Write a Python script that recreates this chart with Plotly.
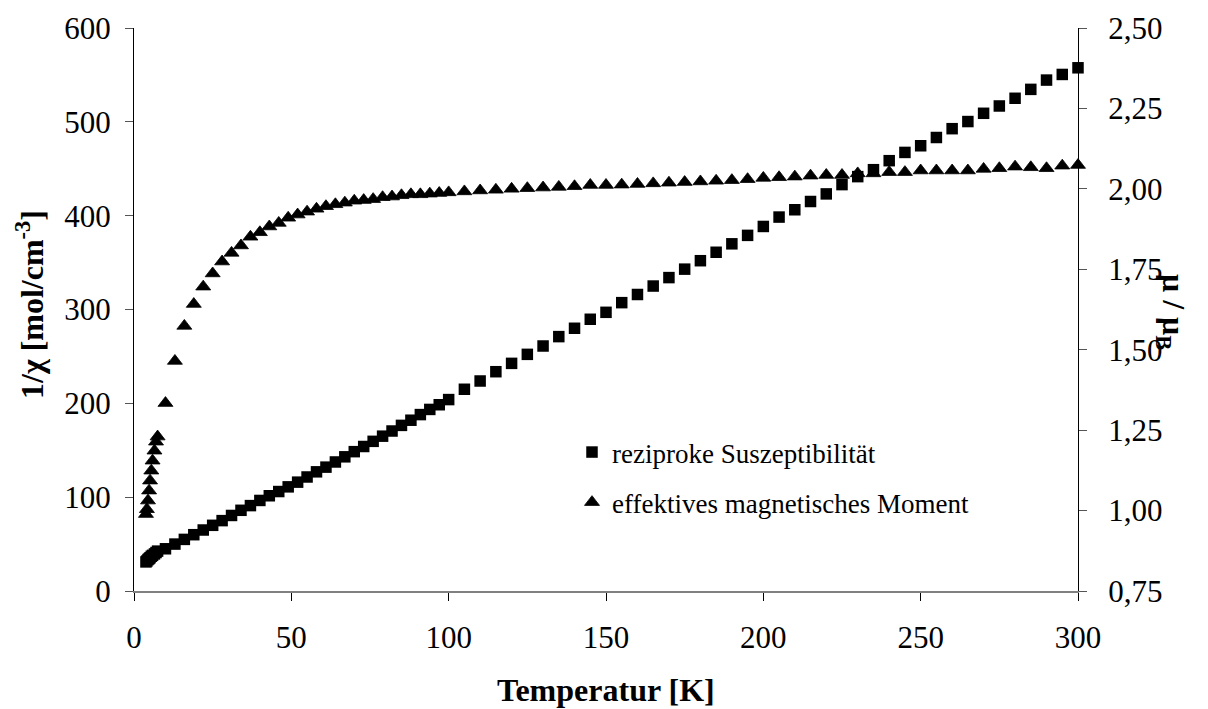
import plotly.graph_objects as go

# Temperatur [K]
temperatur = [
    3.8, 4.1, 4.45, 4.8, 5.1, 5.5, 5.9, 6.5, 7.0, 7.5,
    10, 13, 16, 19, 22, 25, 28, 31, 34, 37, 40, 43, 46, 49, 52, 55, 58, 61, 64, 67,
    70, 73, 76, 79, 82, 85, 88, 91, 94, 97, 100,
    105, 110, 115, 120, 125, 130, 135, 140, 145, 150, 155, 160, 165, 170, 175, 180,
    185, 190, 195, 200, 205, 210, 215, 220, 225, 230, 235, 240, 245, 250, 255, 260,
    265, 270, 275, 280, 285, 290, 295, 300,
]

# reziproke Suszeptibilität 1/chi [mol/cm^-3]
chi_inv = [
    31, 32, 33.5, 34.5, 35.5, 37, 38, 39.5, 41, 42.5,
    45, 50, 55, 60, 65, 70, 75, 80.5, 86, 91, 96.5, 101.5, 106, 111, 116, 121.5, 127,
    132, 137.5, 143, 148.5, 154, 159.5, 165, 170.5, 176.5, 182, 188, 193.5, 198.5, 204,
    215, 223.8, 233.7, 242.6, 252.2, 261.1, 271.1, 280, 289.6, 297, 307.3, 316, 325,
    334, 343, 352, 361, 370, 379, 388.5, 398.5, 406.3, 415.1, 423.2, 433.1, 441.6,
    449, 458.6, 467.4, 474.5, 483.3, 492.7, 500.3, 509.1, 516.9, 525.1, 534.6, 544.5,
    550.5, 557.6,
]

# effektives magnetisches Moment mu / mu_B
mu_eff = [
    0.989, 1.004, 1.031, 1.062, 1.093, 1.124, 1.155, 1.186, 1.214, 1.230,
    1.334, 1.465, 1.574, 1.642, 1.696, 1.737, 1.774, 1.801, 1.824, 1.851, 1.865,
    1.883, 1.894, 1.910, 1.920, 1.929, 1.938, 1.946, 1.952, 1.957, 1.963, 1.965,
    1.968, 1.974, 1.976, 1.980, 1.983, 1.983, 1.985, 1.987, 1.989,
    1.992, 1.995, 1.997, 2.000, 2.002, 2.004, 2.006, 2.008, 2.012, 2.012, 2.013,
    2.015, 2.017, 2.019, 2.021, 2.023, 2.025, 2.027, 2.030, 2.034, 2.036, 2.038,
    2.041, 2.043, 2.043, 2.048, 2.048, 2.052, 2.052, 2.057, 2.057, 2.057, 2.057,
    2.062, 2.064, 2.069, 2.067, 2.064, 2.072, 2.074,
]

x_ticks = [0, 50, 100, 150, 200, 250, 300]
y_ticks = [0, 100, 200, 300, 400, 500, 600]
y2_ticks = [0.75, 1.00, 1.25, 1.50, 1.75, 2.00, 2.25, 2.50]

FONT = "Liberation Serif"

fig = go.Figure()
fig.add_trace(go.Scatter(
    x=temperatur, y=chi_inv, mode="markers", name="reziproke Suszeptibilität",
    legendgroup="chi", cliponaxis=False,
    marker=dict(symbol="square", size=11.5, color="black", line=dict(width=0)),
))
fig.add_trace(go.Scatter(
    x=temperatur, y=mu_eff, mode="markers", name="effektives magnetisches Moment",
    legendgroup="mu", yaxis="y2", cliponaxis=False,
    marker=dict(symbol="triangle-up", size=13, color="black",
                line=dict(width=0.8, color="black")),
))

axis_common = dict(showgrid=False, zeroline=False, ticks="outside", ticklen=8,
                   tickfont=dict(family=FONT, size=31, color="black"))

fig.update_layout(
    width=1208, height=709,
    margin=dict(l=134, r=130, t=28, b=118),
    paper_bgcolor="white", plot_bgcolor="white",
    separators=", ",
    font=dict(family=FONT, color="black"),
    xaxis=dict(range=[0, 300], tickvals=x_ticks, showline=True, linecolor="#808080",
               linewidth=2, tickcolor="black", tickwidth=1, ticklabelstandoff=10,
               **axis_common),
    yaxis=dict(range=[0, 600], tickvals=y_ticks, showline=True, linecolor="black",
               linewidth=1, tickcolor="#555555", tickwidth=1, ticklabelstandoff=8,
               **axis_common),
    yaxis2=dict(range=[0.75, 2.5], tickvals=y2_ticks, tickformat=".2f", overlaying="y",
                side="right", showline=True, linecolor="black", linewidth=1,
                tickcolor="#555555", tickwidth=1, ticklabelstandoff=15, **axis_common),
    legend=dict(x=(572 - 134) / 944, y=(591 - 428) / 563, xanchor="left", yanchor="top",
                bgcolor="rgba(0,0,0,0)", tracegroupgap=12,
                font=dict(family=FONT, size=27, color="black")),
    showlegend=True,
)

fig.add_annotation(text="<b>Temperatur [K]</b>", xref="paper", yref="paper",
                   x=(606 - 134) / 944, y=(591 - 690) / 563, showarrow=False,
                   xanchor="center", yanchor="middle",
                   font=dict(family=FONT, size=32, color="black"))
fig.add_annotation(text="<b>1/χ [mol/cm<sup>-3</sup>]</b>", xref="paper", yref="paper",
                   x=(30 - 134) / 944, y=(591 - 305) / 563, showarrow=False,
                   textangle=-90, xanchor="center", yanchor="middle",
                   font=dict(family=FONT, size=32, color="black"))
fig.add_annotation(text="<b>μ / μ<sub>B</sub></b>", xref="paper", yref="paper",
                   x=(1172 - 134) / 944, y=(591 - 312) / 563, showarrow=False,
                   textangle=90, xanchor="center", yanchor="middle",
                   font=dict(family=FONT, size=32, color="black"))

fig.write_html("out.html")
